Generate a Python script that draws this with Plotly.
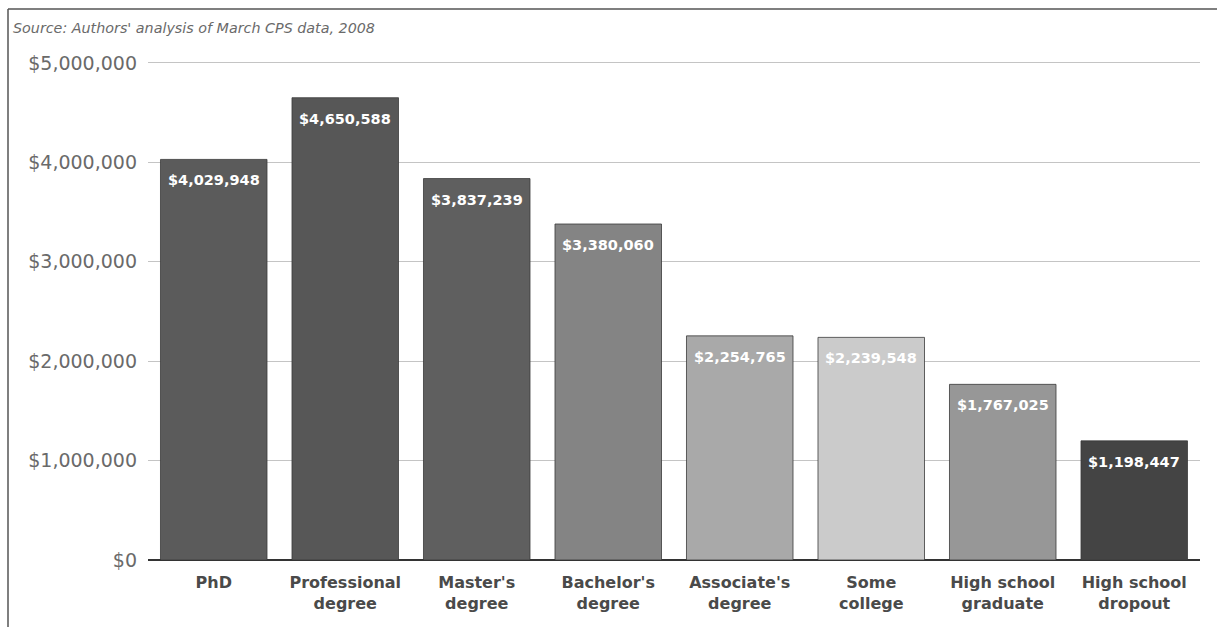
import plotly.graph_objects as go

categories = ["PhD", "Professional<br>degree", "Master's<br>degree", "Bachelor's<br>degree",
              "Associate's<br>degree", "Some<br>college", "High school<br>graduate", "High school<br>dropout"]
values = [4029948, 4650588, 3837239, 3380060, 2254765, 2239548, 1767025, 1198447]
labels = ["$4,029,948", "$4,650,588", "$3,837,239", "$3,380,060",
          "$2,254,765", "$2,239,548", "$1,767,025", "$1,198,447"]
bar_colors = ["#5b5b5b", "#575757", "#5f5f5f", "#848484", "#a9a9a9", "#cbcbcb", "#979797", "#444444"]
tick_vals = [0, 1000000, 2000000, 3000000, 4000000, 5000000]
tick_text = ["$0", "$1,000,000", "$2,000,000", "$3,000,000", "$4,000,000", "$5,000,000"]

W, H = 1217, 627
L, R, T, B = 148, 17, 61, 67
pw, ph = W - L - R, H - T - B
y_top = 5020000

fig = go.Figure()
fig.add_trace(go.Bar(
    x=categories, y=values,
    marker=dict(color=bar_colors, line=dict(color="#3a3a3a", width=0.8)),
    width=0.81, hoverinfo="skip",
))

for c, v, t in zip(categories, values, labels):
    fig.add_annotation(x=c, y=v, text="<b>" + t + "</b>", showarrow=False,
                       yanchor="top", yshift=-11,
                       font=dict(family="DejaVu Sans", size=14.5, color="white"))

def px_x(p):
    return (p - L) / pw

def px_y(p):
    return (H - B - p) / ph

fig.add_annotation(xref="paper", yref="paper", x=px_x(11), y=px_y(28),
                   text="<i>Source: Authors' analysis of March CPS data, 2008</i>",
                   showarrow=False, xanchor="left", yanchor="middle",
                   font=dict(family="DejaVu Sans", size=14.3, color="#6a6a6a"))

fig.add_shape(type="line", xref="paper", yref="paper", x0=px_x(8), x1=px_x(1217), y0=px_y(9), y1=px_y(9),
              line=dict(color="#555555", width=1.5))
fig.add_shape(type="line", xref="paper", yref="paper", x0=px_x(8), x1=px_x(8), y0=px_y(9), y1=px_y(627),
              line=dict(color="#555555", width=1.5))

fig.update_layout(
    width=W, height=H,
    margin=dict(l=L, r=R, t=T, b=B),
    paper_bgcolor="white", plot_bgcolor="white",
    showlegend=False,
    bargap=0.19,
    xaxis=dict(showgrid=False, ticks="", showline=False, ticklabelstandoff=11,
               tickfont=dict(family="DejaVu Sans", size=16, color="#4a4a4a", weight="bold")),
    yaxis=dict(range=[0, y_top], tickvals=tick_vals, ticktext=tick_text,
               showgrid=True, gridcolor="#c4c4c4", gridwidth=1,
               zeroline=True, zerolinecolor="#333333", zerolinewidth=2,
               ticks="", ticklabelstandoff=10,
               tickfont=dict(family="DejaVu Sans", size=19, color="#6a6a6a")),
)

fig.write_html("out.html")
